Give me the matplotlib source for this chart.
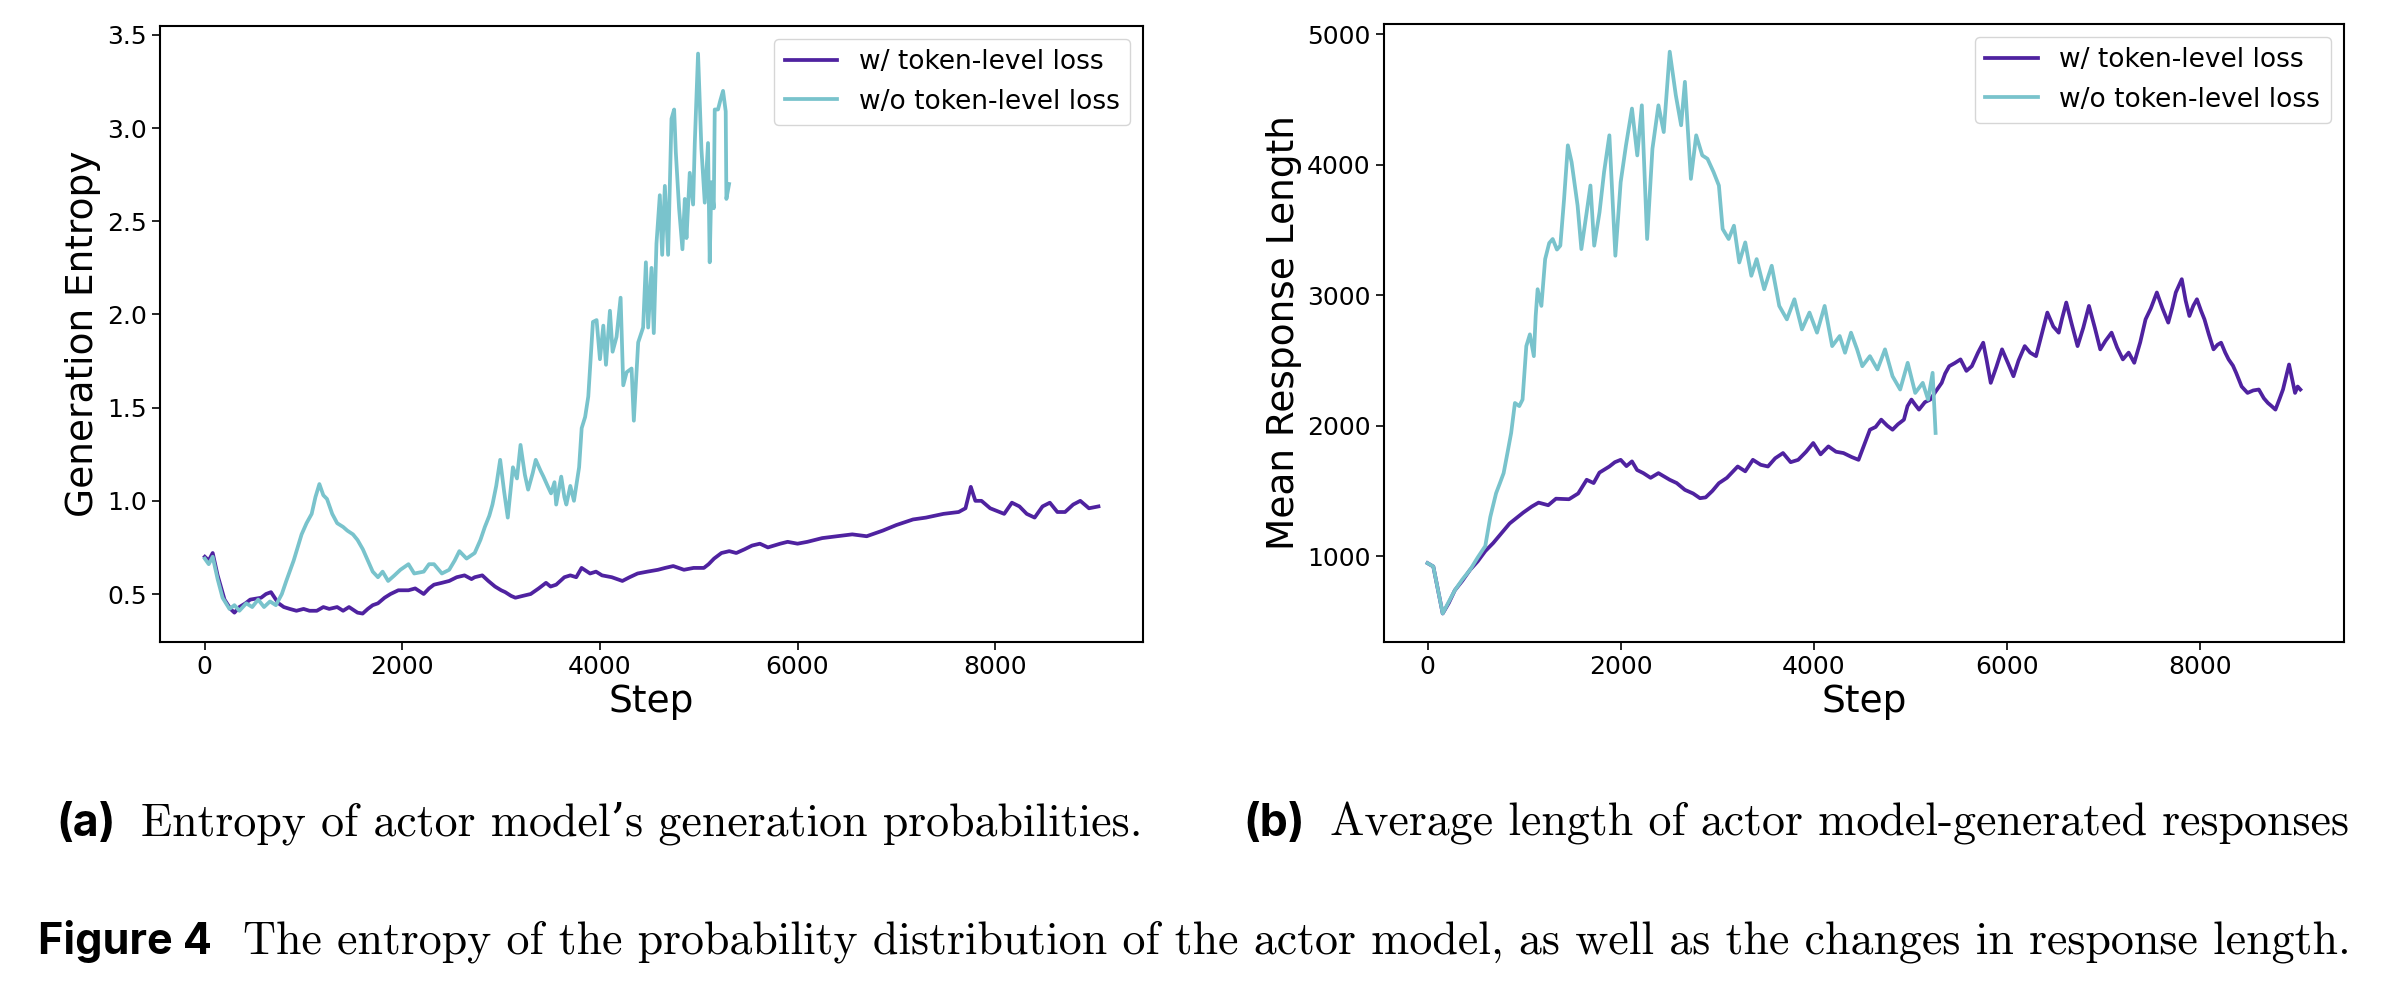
import matplotlib
matplotlib.use("Agg")
import matplotlib.pyplot as plt

# ---- data ----
# (a) generation entropy, w/ token-level loss
ent_w_step = [0, 40, 80, 130, 200, 260, 300, 350, 412, 460, 515, 570, 620, 670, 720, 747,
              800, 860, 928, 1000, 1060, 1134, 1200, 1260, 1340, 1400, 1460, 1546, 1598, 1650,
              1700, 1753, 1820, 1880, 1959, 2062, 2130, 2216, 2270, 2320, 2400, 2474, 2550,
              2629, 2700, 2732, 2809, 2870, 2938, 3000, 3041, 3100, 3144, 3220, 3299, 3380,
              3454, 3500, 3557, 3640, 3700, 3760, 3814, 3900, 3960, 4021, 4120, 4227, 4300,
              4381, 4480, 4588, 4660, 4742, 4850, 4948, 5052, 5100, 5155, 5230, 5309, 5380,
              5464, 5540, 5619, 5700, 5825, 5900, 6000, 6100, 6250, 6400, 6554, 6700, 6862,
              7000, 7169, 7300, 7477, 7631, 7700, 7754, 7800, 7862, 7950, 8092, 8170, 8246,
              8320, 8400, 8480, 8554, 8630, 8708, 8790, 8862, 8950, 9046]
ent_w_val = [0.70, 0.68, 0.72, 0.60, 0.47, 0.42, 0.40, 0.43, 0.45, 0.47, 0.475, 0.48, 0.50,
             0.51, 0.47, 0.45, 0.43, 0.42, 0.41, 0.42, 0.41, 0.41, 0.43, 0.42, 0.43, 0.41,
             0.43, 0.40, 0.395, 0.42, 0.44, 0.45, 0.48, 0.50, 0.52, 0.52, 0.53, 0.50, 0.53,
             0.55, 0.56, 0.57, 0.59, 0.60, 0.58, 0.59, 0.60, 0.57, 0.54, 0.52, 0.51, 0.49,
             0.48, 0.49, 0.50, 0.53, 0.56, 0.54, 0.55, 0.59, 0.60, 0.59, 0.64, 0.61, 0.62,
             0.60, 0.59, 0.57, 0.59, 0.61, 0.62, 0.63, 0.64, 0.65, 0.63, 0.64, 0.64, 0.66,
             0.69, 0.72, 0.73, 0.72, 0.74, 0.76, 0.77, 0.75, 0.77, 0.78, 0.77, 0.78, 0.80,
             0.81, 0.82, 0.81, 0.84, 0.87, 0.90, 0.91, 0.93, 0.94, 0.96, 1.075, 1.00, 1.00,
             0.96, 0.93, 0.99, 0.97, 0.93, 0.91, 0.97, 0.99, 0.94, 0.94, 0.98, 1.00, 0.96, 0.97]

# (a) generation entropy, w/o token-level loss
ent_wo_step = [0, 40, 80, 130, 180, 250, 300, 350, 420, 480, 540, 600, 660, 720, 780, 825,
               900, 980, 1030, 1082, 1120, 1160, 1200, 1237, 1290, 1340, 1400, 1443, 1500,
               1546, 1600, 1650, 1700, 1753, 1800, 1856, 1920, 1980, 2062, 2120, 2216, 2270,
               2320, 2400, 2474, 2530, 2577, 2650, 2732, 2790, 2835, 2880, 2912, 2950, 2990,
               3030, 3067, 3119, 3160, 3196, 3240, 3273, 3320, 3350, 3400, 3428, 3470, 3505,
               3540, 3557, 3608, 3640, 3660, 3700, 3737, 3789, 3815, 3850, 3882, 3929, 3966,
               4000, 4034, 4061, 4101, 4128, 4168, 4209, 4236, 4270, 4320, 4343, 4387, 4437,
               4465, 4488, 4522, 4545, 4572, 4606, 4630, 4657, 4690, 4724, 4751, 4768, 4801,
               4835, 4859, 4876, 4909, 4943, 4960, 4993, 5027, 5061, 5094, 5111, 5128, 5152,
               5162, 5195, 5219, 5246, 5273, 5280, 5307]
ent_wo_val = [0.69, 0.66, 0.70, 0.58, 0.48, 0.42, 0.44, 0.41, 0.45, 0.43, 0.47, 0.43, 0.46,
              0.44, 0.50, 0.57, 0.68, 0.82, 0.88, 0.93, 1.02, 1.09, 1.03, 1.01, 0.93, 0.88,
              0.86, 0.84, 0.82, 0.79, 0.74, 0.68, 0.62, 0.59, 0.62, 0.57, 0.60, 0.63, 0.66,
              0.61, 0.62, 0.66, 0.66, 0.61, 0.63, 0.68, 0.73, 0.69, 0.72, 0.79, 0.86, 0.92,
              0.98, 1.08, 1.22, 1.05, 0.91, 1.18, 1.12, 1.30, 1.14, 1.06, 1.15, 1.22, 1.16,
              1.13, 1.08, 1.04, 1.10, 0.98, 1.13, 1.02, 0.98, 1.08, 1.00, 1.18, 1.39, 1.45,
              1.56, 1.96, 1.97, 1.76, 1.94, 1.73, 2.02, 1.80, 1.88, 2.09, 1.62, 1.69, 1.71,
              1.43, 1.85, 1.93, 2.28, 1.93, 2.25, 1.90, 2.38, 2.64, 2.32, 2.69, 2.32, 3.05,
              3.10, 2.87, 2.57, 2.35, 2.62, 2.41, 2.76, 2.59, 2.92, 3.40, 2.89, 2.60, 2.92,
              2.28, 2.71, 2.57, 3.10, 3.10, 3.15, 3.20, 3.09, 2.62, 2.70]

# (b) mean response length, w/ token-level loss
len_w_step = [0, 60, 157, 220, 283, 360, 441, 520, 598, 680, 756, 850, 992, 1080, 1150, 1250,
              1330, 1465, 1560, 1648, 1720, 1780, 1883, 1940, 2000, 2060, 2117, 2170, 2235,
              2310, 2391, 2450, 2508, 2580, 2665, 2750, 2821, 2880, 2950, 3017, 3100, 3212,
              3290, 3369, 3450, 3525, 3600, 3681, 3760, 3838, 3920, 3994, 4070, 4151, 4230,
              4307, 4390, 4463, 4520, 4581, 4640, 4698, 4760, 4815, 4870, 4933, 4970, 5011,
              5050, 5089, 5150, 5206, 5260, 5324, 5360, 5402, 5460, 5519, 5580, 5636, 5700,
              5754, 5790, 5832, 5890, 5949, 6010, 6067, 6120, 6184, 6240, 6301, 6360, 6418,
              6480, 6536, 6570, 6614, 6670, 6731, 6790, 6849, 6910, 6966, 7020, 7083, 7140,
              7200, 7260, 7318, 7380, 7435, 7490, 7552, 7610, 7670, 7710, 7748, 7810, 7850,
              7889, 7930, 7967, 8010, 8045, 8090, 8139, 8180, 8217, 8260, 8295, 8340, 8373,
              8430, 8491, 8550, 8608, 8660, 8702, 8740, 8780, 8820, 8858, 8921, 8983, 9010, 9038]
len_w_val = [946, 920, 560, 640, 738, 810, 895, 960, 1038, 1100, 1167, 1250, 1334, 1380, 1410,
             1390, 1440, 1436, 1480, 1585, 1560, 1640, 1687, 1720, 1738, 1690, 1726, 1660,
             1636, 1600, 1636, 1610, 1585, 1560, 1508, 1480, 1444, 1450, 1500, 1559, 1600,
             1687, 1650, 1738, 1700, 1687, 1750, 1790, 1720, 1738, 1800, 1867, 1780, 1841,
             1800, 1790, 1760, 1738, 1850, 1969, 1990, 2046, 2000, 1969, 2010, 2046, 2150,
             2200, 2160, 2123, 2180, 2200, 2260, 2328, 2400, 2456, 2480, 2508, 2420, 2456,
             2560, 2636, 2500, 2328, 2450, 2585, 2480, 2379, 2500, 2610, 2560, 2533, 2700,
             2867, 2760, 2713, 2820, 2944, 2780, 2610, 2750, 2918, 2750, 2585, 2650, 2713,
             2600, 2508, 2560, 2482, 2640, 2815, 2900, 3021, 2900, 2790, 2900, 3021, 3123,
             2960, 2841, 2920, 2969, 2880, 2815, 2700, 2585, 2620, 2636, 2560, 2508, 2460,
             2405, 2300, 2251, 2270, 2277, 2210, 2174, 2150, 2123, 2200, 2277, 2469, 2251,
             2300, 2277]

# (b) mean response length, w/o token-level loss
len_wo_step = [0, 60, 157, 220, 283, 360, 441, 520, 598, 650, 710, 750, 788, 830, 866, 905,
               950, 984, 1023, 1060, 1101, 1120, 1140, 1179, 1218, 1260, 1296, 1340, 1375,
               1414, 1453, 1492, 1554, 1593, 1648, 1687, 1726, 1781, 1828, 1883, 1945, 2000,
               2055, 2117, 2172, 2219, 2274, 2329, 2391, 2446, 2508, 2571, 2626, 2665, 2727,
               2782, 2845, 2899, 2962, 3017, 3056, 3118, 3173, 3228, 3290, 3353, 3408, 3486,
               3564, 3642, 3721, 3799, 3877, 3955, 4033, 4112, 4190, 4268, 4323, 4385, 4448,
               4502, 4581, 4659, 4737, 4815, 4894, 4972, 5050, 5128, 5183, 5230, 5261]
len_wo_val = [946, 920, 560, 650, 738, 820, 895, 990, 1077, 1300, 1482, 1560, 1636, 1800,
              1944, 2174, 2150, 2200, 2610, 2700, 2533, 2841, 3046, 2918, 3277, 3400, 3431,
              3350, 3380, 3738, 4149, 4020, 3687, 3354, 3636, 3841, 3380, 3636, 3944, 4226,
              3303, 3867, 4149, 4431, 4072, 4456, 3431, 4123, 4456, 4251, 4867, 4533, 4303,
              4636, 3892, 4226, 4072, 4046, 3944, 3841, 3508, 3431, 3533, 3251, 3405, 3149,
              3277, 3046, 3226, 2918, 2815, 2969, 2738, 2867, 2713, 2918, 2610, 2687, 2559,
              2713, 2585, 2456, 2533, 2431, 2585, 2379, 2277, 2482, 2251, 2328, 2200, 2405, 1944]

labels = ["w/ token-level loss", "w/o token-level loss"]
color_w = "#4f22a0"
color_wo = "#79c3cc"

fig = plt.figure(figsize=(23.86, 9.84), dpi=100)
ax1 = fig.add_axes([0.0671, 0.348, 0.412, 0.626])
ax2 = fig.add_axes([0.580, 0.348, 0.4024, 0.628])

for ax, sw, vw, swo, vwo, ylab in [
    (ax1, ent_w_step, ent_w_val, ent_wo_step, ent_wo_val, "Generation Entropy"),
    (ax2, len_w_step, len_w_val, len_wo_step, len_wo_val, "Mean Response Length"),
]:
    ax.plot(sw, vw, color=color_w, lw=2.7, label=labels[0])
    ax.plot(swo, vwo, color=color_wo, lw=2.7, label=labels[1])
    ax.set_xlabel("Step", fontsize=27)
    ax.set_ylabel(ylab, fontsize=27)
    ax.set_xticks([0, 2000, 4000, 6000, 8000])
    ax.tick_params(labelsize=18, length=6, width=1.2)
    for s in ax.spines.values():
        s.set_linewidth(1.5)
    ax.legend(loc="upper right", fontsize=19, edgecolor="#cccccc")

ax1.set_yticks([0.5, 1.0, 1.5, 2.0, 2.5, 3.0, 3.5])
ax2.set_yticks([1000, 2000, 3000, 4000, 5000])

serif = ["cmr10", "DejaVu Serif"]
bold = ["Inter", "DejaVu Sans"]

fig.text(0.0235, 0.163, "(a)", fontsize=32, fontweight="bold", family=bold, va="center")
fig.text(0.059, 0.163, "Entropy of actor model\u2019s generation probabilities.",
         fontsize=33, family=serif, va="center")
fig.text(0.521, 0.163, "(b)", fontsize=32, fontweight="bold", family=bold, va="center")
fig.text(0.5575, 0.163, "Average length of actor model-generated responses",
         fontsize=33, family=serif, va="center")
fig.text(0.016, 0.043, "Figure 4", fontsize=31, fontweight="bold", family=bold, va="center")
fig.text(0.102, 0.043, "The entropy of the probability distribution of the actor model, "
         "as well as the changes in response length.", fontsize=33, family=serif, va="center")

fig.savefig("out.png", dpi=100)
